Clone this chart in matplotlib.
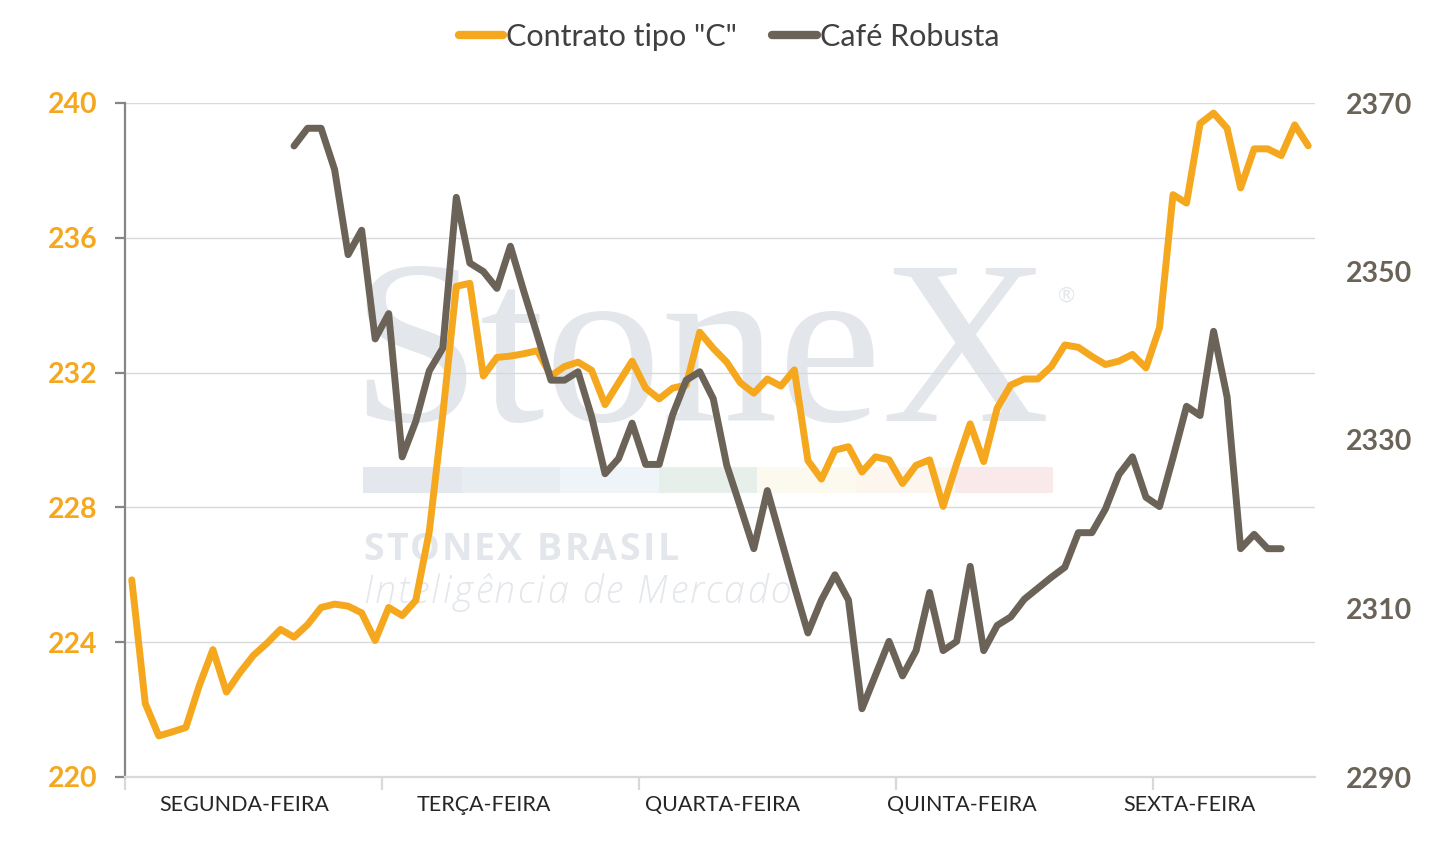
import numpy as np
import matplotlib
matplotlib.use("Agg")
import matplotlib.pyplot as plt
from matplotlib.patches import Rectangle
from matplotlib.lines import Line2D

plt.rcParams['font.family'] = ['Lato', 'DejaVu Sans']

# Contrato tipo "C" (eixo esquerdo), um valor por ponto intradiário
contrato_c = [225.85, 222.18, 221.22, 221.34, 221.47, 222.72, 223.78, 222.52, 223.10, 223.61,
              223.97, 224.38, 224.15, 224.52, 225.03, 225.13, 225.07, 224.87, 224.05, 225.03,
              224.79, 225.24, 227.28, 230.75, 234.56, 234.65, 231.90, 232.45, 232.49, 232.56,
              232.65, 231.90, 232.18, 232.31, 232.07, 231.05, 231.70, 232.34, 231.54, 231.22,
              231.54, 231.63, 233.20, 232.72, 232.31, 231.70, 231.39, 231.81, 231.60, 232.08,
              229.39, 228.84, 229.70, 229.80, 229.05, 229.50, 229.41, 228.71, 229.25, 229.41,
              228.03, 229.30, 230.48, 229.36, 230.95, 231.63, 231.81, 231.81, 232.18, 232.82,
              232.75, 232.48, 232.24, 232.34, 232.54, 232.14, 233.33, 237.28, 237.03, 239.39,
              239.70, 239.25, 237.48, 238.64, 238.64, 238.44, 239.35, 238.73]

# Café Robusta (eixo direito), sem cotação no início e no fim
robusta = [None] * 12 + [
    2364.9, 2367.0, 2367.0, 2362.1, 2352.0, 2354.9, 2342.0, 2345.0,
    2328.0, 2332.2, 2338.2, 2340.9, 2358.8, 2351.0, 2350.0, 2348.0, 2353.0, 2347.6,
    2342.4, 2337.1, 2337.1, 2338.1, 2332.8, 2326.0, 2327.8, 2332.0, 2327.1, 2327.1,
    2333.0, 2337.1, 2338.1, 2334.9, 2327.0, 2322.1, 2317.1, 2324.0, 2318.3, 2312.6,
    2307.1, 2311.0, 2314.0, 2311.0, 2298.1, 2302.1, 2306.1, 2302.0, 2305.0, 2311.9,
    2305.0, 2306.1, 2315.0, 2305.0, 2308.0, 2309.0, 2311.1, 2312.4, 2313.7, 2314.9,
    2319.0, 2319.0, 2321.8, 2325.9, 2328.0, 2323.2, 2322.1, 2327.9, 2334.0, 2332.9,
    2342.9, 2335.1, 2317.1, 2318.8, 2317.1, 2317.1] + [None] * 2

dias = ["SEGUNDA-FEIRA", "TERÇA-FEIRA", "QUARTA-FEIRA", "QUINTA-FEIRA", "SEXTA-FEIRA"]
dias_pos = [8.3, 26.05, 43.7, 61.4, 78.2]
pontos_por_dia = 19

laranja = '#F5A71E'
cinza = '#6B6358'

W, H = 1455, 842
fig = plt.figure(figsize=(W / 100, H / 100), dpi=100)
ax = fig.add_axes([125 / W, 1 - 777 / H, (1315 - 125) / W, (777 - 103) / H])
ax.patch.set_visible(False)
ax2 = ax.twinx()
renderer = fig.canvas.get_renderer()


def px(x, y):
    return x / W, 1 - y / H


def largura(s, **kw):
    t = fig.text(0, 0, s, **kw)
    w = t.get_window_extent(renderer).width
    t.remove()
    return w


def texto_espacado(x, y, s, extra, **kw):
    # texto com espaçamento entre letras, como na marca d'água original
    ref = largura('l', **kw)
    for k, ch in enumerate(s):
        if ch == ' ':
            continue
        dx = largura(s[:k] + 'l', **kw) - ref if k else 0
        fig.text(*px(x + dx + k * extra, y), ch, ha='left', va='baseline',
                 zorder=-2, **kw)


# marca d'água StoneX
wm = '#E3E7EC'
fig.text(*px(350, 421), "StoneX", family='Liberation Serif', fontsize=168,
         color=wm, ha='left', va='baseline', zorder=-2)
fig.text(*px(1067, 296), "®", fontsize=15, color=wm, ha='center', va='center', zorder=-2)
barra = ['#E4E8EE', '#E8EDF1', '#EFF4F8', '#E6EFEA', '#FCFAEF', '#FDF6EE', '#F9E9EA']
for k, c in enumerate(barra):
    x0, y0 = px(363 + k * 98.6, 493)
    fig.add_artist(Rectangle((x0, y0), 98.6 / W, 26 / H, transform=fig.transFigure,
                             facecolor=c, edgecolor='none', zorder=-2))
texto_espacado(363, 560, "STONEX BRASIL", 2.3, family='Open Sans', fontsize=27,
               fontweight='bold', color=wm)
texto_espacado(363, 603, "Inteligência de Mercado", 2.4, family='Open Sans',
               fontsize=27, style='italic', fontweight='light', color=wm)

x = np.arange(len(contrato_c))
rob = np.array([np.nan if v is None else v for v in robusta], dtype=float)

ax.plot(x, contrato_c, color=laranja, lw=5, solid_joinstyle='round',
        solid_capstyle='round', zorder=3)
ax2.plot(x, rob, color=cinza, lw=5, solid_joinstyle='round',
         solid_capstyle='round', zorder=3)

ax.set_xlim(-0.5, len(x) - 0.5)
ax.set_ylim(220, 240)
ax2.set_ylim(2290, 2370)
ax.set_yticks(np.arange(220, 241, 4))
ax2.set_yticks(np.arange(2290, 2371, 20))
ax.yaxis.grid(True, color='#D9D9D9', lw=1)
ax.set_axisbelow(True)

for s in ['top', 'right']:
    ax.spines[s].set_visible(False)
for s in ax2.spines.values():
    s.set_visible(False)
ax.spines['left'].set_color('#858585')
ax.spines['left'].set_linewidth(1.6)
ax.spines['bottom'].set_color('#D9D9D9')
ax.spines['bottom'].set_linewidth(1.6)

ax.tick_params(axis='y', length=7, width=1.6, color='#858585', pad=13,
               labelsize=20.5, labelcolor=laranja)
ax2.tick_params(axis='y', length=0, pad=22, labelsize=20.5, labelcolor=cinza)
for lab in ax.get_yticklabels() + ax2.get_yticklabels():
    lab.set_fontweight('bold')

ax.set_xticks(np.arange(len(dias)) * pontos_por_dia - 0.5)
ax.set_xticklabels([])
ax.set_xticks(dias_pos, minor=True)
ax.set_xticklabels(dias, minor=True)
ax.tick_params(axis='x', which='major', length=9, width=1.6, color='#D9D9D9')
ax.tick_params(axis='x', which='minor', length=0, pad=13, labelsize=15.5,
               labelcolor='#262626')

handles = [Line2D([], [], color=laranja, lw=6, solid_capstyle='round'),
           Line2D([], [], color=cinza, lw=6, solid_capstyle='round')]
fig.legend(handles, ['Contrato tipo "C"', 'Café Robusta'], loc='center',
           bbox_to_anchor=(729 / W, 1 - 37 / H), ncol=2, frameon=False,
           fontsize=22, handlelength=1.45, handletextpad=0.1, columnspacing=1.15,
           labelcolor='#404040')

fig.savefig('out.png', dpi=100)
